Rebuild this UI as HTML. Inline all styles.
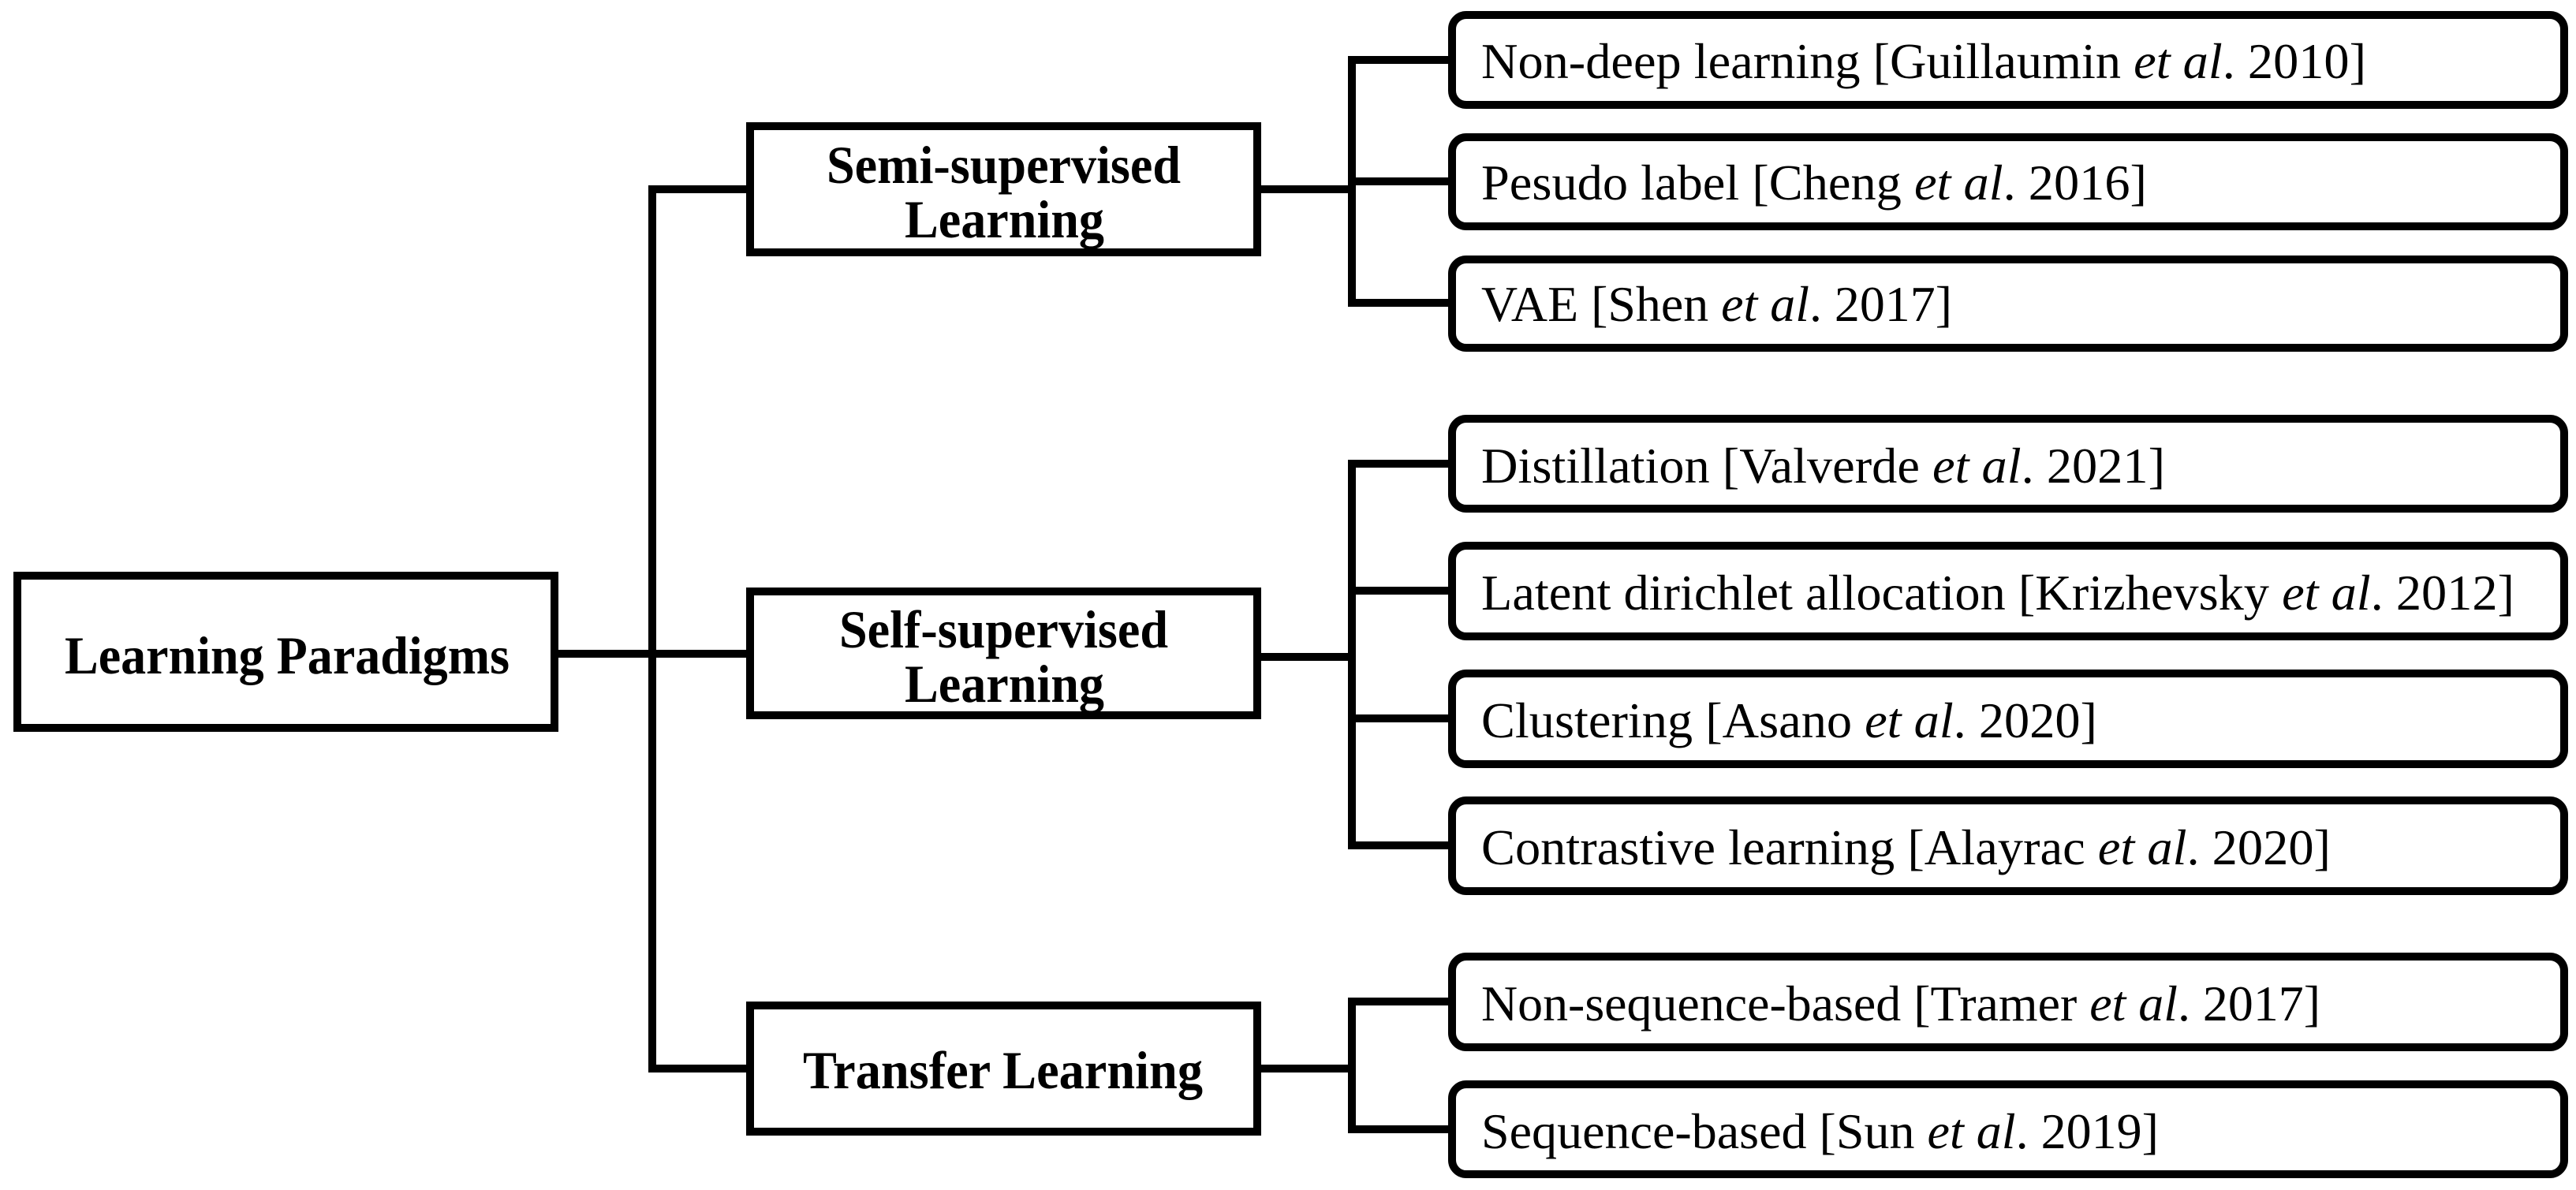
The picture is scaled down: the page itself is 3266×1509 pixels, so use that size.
<!DOCTYPE html>
<html><head><meta charset="utf-8"><style>
html,body{margin:0;padding:0;background:#fff;}
svg{display:block;}
.b{font-family:"Liberation Serif",serif;font-weight:bold;font-size:68px;fill:#000;}
.n{font-family:"Liberation Serif",serif;font-size:64px;fill:#000;}
</style></head><body>
<svg width="3266" height="1509" viewBox="0 0 3266 1509" xmlns="http://www.w3.org/2000/svg">
<g fill="none" stroke="#000" stroke-width="10">
<!-- root -->
<rect x="22" y="730" width="681" height="193"/>
<!-- mid boxes -->
<rect x="951" y="160" width="643" height="160"/>
<rect x="951" y="750" width="643" height="157"/>
<rect x="951" y="1275" width="643" height="160"/>
<!-- connectors -->
<line x1="708" y1="829" x2="946" y2="829"/>
<polyline points="946,240 827,240 827,1355 946,1355"/>
<line x1="1598" y1="240" x2="1714" y2="240"/>
<line x1="1598" y1="833" x2="1714" y2="833"/>
<line x1="1598" y1="1355" x2="1714" y2="1355"/>
<polyline points="1836,76 1714,76 1714,384 1836,384"/>
<line x1="1714" y1="230" x2="1836" y2="230"/>
<polyline points="1836,588 1714,588 1714,1072 1836,1072"/>
<line x1="1714" y1="749" x2="1836" y2="749"/>
<line x1="1714" y1="911" x2="1836" y2="911"/>
<polyline points="1836,1270 1714,1270 1714,1432 1836,1432"/>
<!-- leaves -->
<rect x="1841" y="19" width="1410" height="114" rx="18"/>
<rect x="1841" y="174" width="1410" height="113" rx="18"/>
<rect x="1841" y="329" width="1410" height="112" rx="18"/>
<rect x="1841" y="531" width="1410" height="114" rx="18"/>
<rect x="1841" y="692" width="1410" height="115" rx="18"/>
<rect x="1841" y="854" width="1410" height="115" rx="18"/>
<rect x="1841" y="1015" width="1410" height="115" rx="18"/>
<rect x="1841" y="1213" width="1410" height="115" rx="18"/>
<rect x="1841" y="1375" width="1410" height="114" rx="18"/>
</g>
<text class="b" x="82" y="854" textLength="564" lengthAdjust="spacingAndGlyphs">Learning Paradigms</text>
<text class="b" x="1048" y="232" textLength="449" lengthAdjust="spacingAndGlyphs">Semi-supervised</text>
<text class="b" x="1147" y="301" textLength="253" lengthAdjust="spacingAndGlyphs">Learning</text>
<text class="b" x="1064" y="821" textLength="417" lengthAdjust="spacingAndGlyphs">Self-supervised</text>
<text class="b" x="1147" y="890" textLength="253" lengthAdjust="spacingAndGlyphs">Learning</text>
<text class="b" x="1018" y="1380" textLength="507" lengthAdjust="spacingAndGlyphs">Transfer Learning</text>

<text class="n" x="1878" y="99" textLength="1122" lengthAdjust="spacingAndGlyphs">Non-deep learning [Guillaumin <tspan font-style="italic">et al</tspan>. 2010]</text>
<text class="n" x="1878" y="253" textLength="844" lengthAdjust="spacingAndGlyphs">Pesudo label [Cheng <tspan font-style="italic">et al</tspan>. 2016]</text>
<text class="n" x="1878" y="407" textLength="597" lengthAdjust="spacingAndGlyphs">VAE [Shen <tspan font-style="italic">et al</tspan>. 2017]</text>
<text class="n" x="1878" y="612" textLength="867" lengthAdjust="spacingAndGlyphs">Distillation [Valverde <tspan font-style="italic">et al</tspan>. 2021]</text>
<text class="n" x="1878" y="773" textLength="1310" lengthAdjust="spacingAndGlyphs">Latent dirichlet allocation [Krizhevsky <tspan font-style="italic">et al</tspan>. 2012]</text>
<text class="n" x="1878" y="935" textLength="781" lengthAdjust="spacingAndGlyphs">Clustering [Asano <tspan font-style="italic">et al</tspan>. 2020]</text>
<text class="n" x="1878" y="1096" textLength="1077" lengthAdjust="spacingAndGlyphs">Contrastive learning [Alayrac <tspan font-style="italic">et al</tspan>. 2020]</text>
<text class="n" x="1878" y="1294" textLength="1064" lengthAdjust="spacingAndGlyphs">Non-sequence-based [Tramer <tspan font-style="italic">et al</tspan>. 2017]</text>
<text class="n" x="1878" y="1456" textLength="859" lengthAdjust="spacingAndGlyphs">Sequence-based [Sun <tspan font-style="italic">et al</tspan>. 2019]</text>
</svg>
</body></html>
